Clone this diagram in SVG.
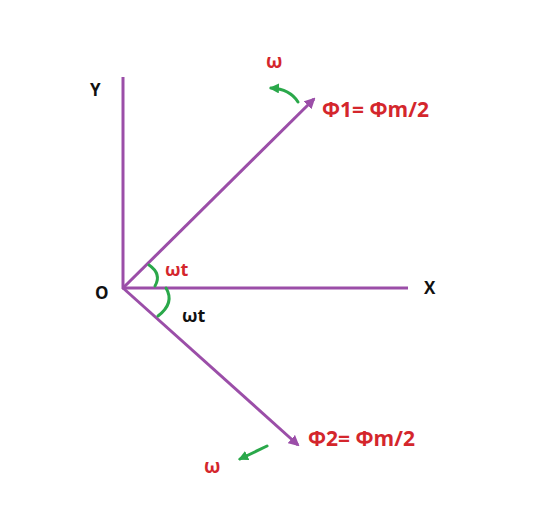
<svg xmlns="http://www.w3.org/2000/svg" width="550" height="510" viewBox="0 0 550 510">
<style>
.ax{stroke:#9b4ea8;stroke-width:3;fill:none}
.g{stroke:#2aa84a;stroke-width:3;fill:none;stroke-linecap:round}
.t{font-family:"Open Sans","Liberation Sans",sans-serif;font-weight:bold}
.r{fill:#d4262c}
.k{fill:#111}
</style>
<defs>
<marker id="pa" markerWidth="11" markerHeight="11" refX="9" refY="5.5" orient="auto" markerUnits="userSpaceOnUse" viewBox="0 0 11 11"><path d="M0,0 L11,5.5 L0,11 z" fill="#9b4ea8"/></marker>
<marker id="ga" markerWidth="10" markerHeight="10" refX="8" refY="5" orient="auto" markerUnits="userSpaceOnUse" viewBox="0 0 10 10"><path d="M0,0 L10,5 L0,10 z" fill="#2aa84a"/></marker>
</defs>
<rect width="550" height="510" fill="#fff"/>
<g id="connectors">
<line id="yaxis" class="ax" x1="123" y1="77" x2="123" y2="289"/>
<line id="xaxis" class="ax" x1="122" y1="288" x2="408" y2="288"/>
<line id="phi1" class="ax" x1="123" y1="288" x2="314" y2="99" marker-end="url(#pa)"/>
<line id="phi2" class="ax" x1="123" y1="288" x2="298" y2="445" marker-end="url(#pa)"/>
<path class="g" d="M149,265 Q162,274 155,286"/>
<path class="g" d="M166,288 Q175,303 158,316"/>
<path class="g" d="M298,102 Q290,89 271,88" marker-end="url(#ga)"/>
<path class="g" d="M267,446 L240,459" marker-end="url(#ga)"/>
</g>
<g id="labels">
<text class="t k" x="90" y="96" font-size="17">Y</text>
<text class="t k" x="95" y="299" font-size="17">O</text>
<text class="t k" x="424" y="294" font-size="17">X</text>
<text class="t r" x="266" y="68" font-size="19">ω</text>
<text class="t r" x="322" y="117" font-size="21">Φ1= Φm/2</text>
<text class="t r" x="165" y="276" font-size="18">ωt</text>
<text class="t k" x="182" y="322" font-size="18">ωt</text>
<text class="t r" x="308" y="446" font-size="21">Φ2= Φm/2</text>
<text class="t r" x="204" y="473" font-size="19">ω</text>
</g>
</svg>
